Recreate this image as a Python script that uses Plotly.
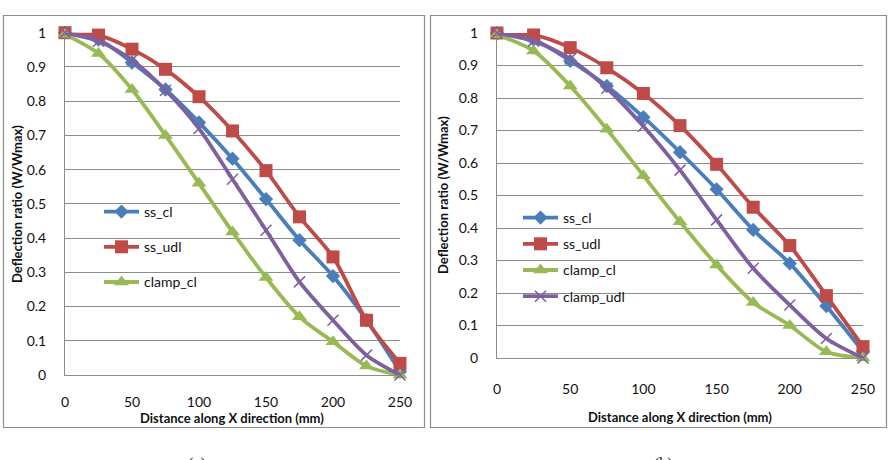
import plotly.graph_objects as go

W, H = 894, 460

x_mm = [0, 25, 50, 75, 100, 125, 150, 175, 200, 225, 250]

# Panel (a)
a_ss_cl = [1.0, 0.98, 0.913, 0.834, 0.738, 0.632, 0.514, 0.394, 0.289, 0.16, 0.01]
a_ss_udl = [1.0, 0.993, 0.952, 0.893, 0.813, 0.713, 0.597, 0.462, 0.345, 0.16, 0.034]
a_clamp_cl = [0.995, 0.939, 0.834, 0.70, 0.56, 0.418, 0.285, 0.17, 0.097, 0.026, 0.0]
a_clamp_udl = [1.0, 0.975, 0.92, 0.832, 0.72, 0.572, 0.423, 0.272, 0.16, 0.058, 0.0]

# Panel (b)
b_ss_cl = [1.0, 0.98, 0.914, 0.837, 0.741, 0.633, 0.519, 0.394, 0.291, 0.16, 0.02]
b_ss_udl = [1.0, 0.994, 0.955, 0.893, 0.814, 0.715, 0.596, 0.464, 0.346, 0.192, 0.035]
b_clamp_cl = [0.995, 0.945, 0.837, 0.704, 0.561, 0.419, 0.286, 0.171, 0.10, 0.019, 0.0]
b_clamp_udl = [1.0, 0.975, 0.92, 0.83, 0.713, 0.578, 0.425, 0.276, 0.163, 0.06, 0.0]

y_ticks = [0, 0.1, 0.2, 0.3, 0.4, 0.5, 0.6, 0.7, 0.8, 0.9, 1]
y_ticktext = ["0", "0.1", "0.2", "0.3", "0.4", "0.5", "0.6", "0.7", "0.8", "0.9", "1"]
x_ticks = [0, 50, 100, 150, 200, 250]

x_title = "Distance along X direction (mm)"
y_title = "Deflection ratio (W/Wmax)"

BLUE = "#4A7EBB"
RED = "#BE4B48"
GREEN = "#98B954"
PURPLE = "#7D60A0"
GRAY = "#8C8C8C"
FONT = "Lato"

def px_x(p):
    return p / W

def px_y(p):
    return 1 - p / H

styles = [
    ("ss_cl", BLUE, dict(symbol="diamond", size=11, color=BLUE)),
    ("ss_udl", RED, dict(symbol="square", size=13, color=RED)),
    ("clamp_cl", GREEN, dict(symbol="triangle-up", size=13, color=GREEN)),
    ("clamp_udl", PURPLE, dict(symbol="x-thin", size=11, color=PURPLE,
                               line=dict(color=PURPLE, width=1.5))),
]

fig = go.Figure()

panels = [
    ("x", "y", "legend", [a_ss_cl, a_ss_udl, a_clamp_cl, a_clamp_udl], [True, True, True, False]),
    ("x2", "y2", "legend2", [b_ss_cl, b_ss_udl, b_clamp_cl, b_clamp_udl], [True, True, True, True]),
]

for xa, ya, lg, series, shows in panels:
    for (name, col, mk), vals, show in zip(styles, series, shows):
        fig.add_trace(go.Scatter(
            x=x_mm, y=vals, name=name, mode="lines+markers",
            line=dict(color=col, width=3.8, shape="spline", smoothing=0.8),
            marker=mk, xaxis=xa, yaxis=ya, legend=lg, showlegend=show,
            legendgroup=lg + name, cliponaxis=False,
        ))

axis_common_x = dict(range=[0, 250], tickvals=x_ticks, showgrid=False, zeroline=False,
                     showline=True, linecolor=GRAY, linewidth=1, ticks="outside",
                     tickcolor="rgba(0,0,0,0)",
                     tickfont=dict(family=FONT, size=14, color="#111"))
axis_common_y = dict(range=[0, 1], tickvals=y_ticks, ticktext=y_ticktext, showgrid=True,
                     gridcolor=GRAY, gridwidth=1, zeroline=False, showline=True,
                     linecolor=GRAY, linewidth=1, ticks="outside",
                     tickcolor="rgba(0,0,0,0)",
                     tickfont=dict(family=FONT, size=14, color="#111"))

fig.update_layout(
    width=W, height=H,
    margin=dict(l=0, r=0, t=0, b=0, autoexpand=False),
    paper_bgcolor="white", plot_bgcolor="white",
    xaxis=dict(domain=[px_x(65), px_x(400)], anchor="y", ticklen=14, **axis_common_x),
    yaxis=dict(domain=[px_y(375), px_y(32.7)], anchor="x", ticklen=15, **axis_common_y),
    xaxis2=dict(domain=[px_x(497), px_x(863)], anchor="y2", ticklen=18, **axis_common_x),
    yaxis2=dict(domain=[px_y(358), px_y(33)], anchor="x2", ticklen=15, **axis_common_y),
    legend=dict(x=px_x(99), y=px_y(196), xanchor="left", yanchor="top",
                bgcolor="rgba(0,0,0,0)", tracegroupgap=14, itemwidth=35,
                font=dict(family=FONT, size=14, color="#111")),
    legend2=dict(x=px_x(518), y=px_y(202), xanchor="left", yanchor="top",
                 bgcolor="rgba(0,0,0,0)", tracegroupgap=5, itemwidth=35,
                 font=dict(family=FONT, size=14, color="#111")),
    showlegend=True,
)

shapes = [
    dict(type="rect", xref="paper", yref="paper", x0=px_x(3.5), x1=px_x(424.5),
         y0=px_y(427.5), y1=px_y(15.5), line=dict(color=GRAY, width=1.2)),
    dict(type="rect", xref="paper", yref="paper", x0=px_x(430.5), x1=px_x(886.5),
         y0=px_y(427.5), y1=px_y(15.5), line=dict(color=GRAY, width=1.2)),
]
fig.update_layout(shapes=shapes)

ann_font = dict(family=FONT, size=13, color="#111")
annotations = [
    dict(text="<b>" + x_title + "</b>", x=px_x(232), y=px_y(418), xref="paper", yref="paper",
         showarrow=False, xanchor="center", yanchor="middle", font=ann_font),
    dict(text="<b>" + x_title + "</b>", x=px_x(680), y=px_y(417), xref="paper", yref="paper",
         showarrow=False, xanchor="center", yanchor="middle", font=ann_font),
    dict(text="<b>" + y_title + "</b>", x=px_x(17), y=px_y(204), xref="paper", yref="paper",
         showarrow=False, xanchor="center", yanchor="middle", textangle=-90, font=ann_font),
    dict(text="<b>" + y_title + "</b>", x=px_x(443), y=px_y(195), xref="paper", yref="paper",
         showarrow=False, xanchor="center", yanchor="middle", textangle=-90, font=ann_font),
    dict(text="(a)", x=px_x(197), y=px_y(453), xref="paper", yref="paper",
         showarrow=False, xanchor="center", yanchor="top",
         font=dict(family="Liberation Serif", size=16, color="#222")),
    dict(text="(b)", x=px_x(663), y=px_y(453), xref="paper", yref="paper",
         showarrow=False, xanchor="center", yanchor="top",
         font=dict(family="Liberation Serif", size=16, color="#222")),
]
fig.update_layout(annotations=annotations)

fig.write_html("out.html", config={"displayModeBar": False},
               post_script="document.body.style.margin='0px';")
